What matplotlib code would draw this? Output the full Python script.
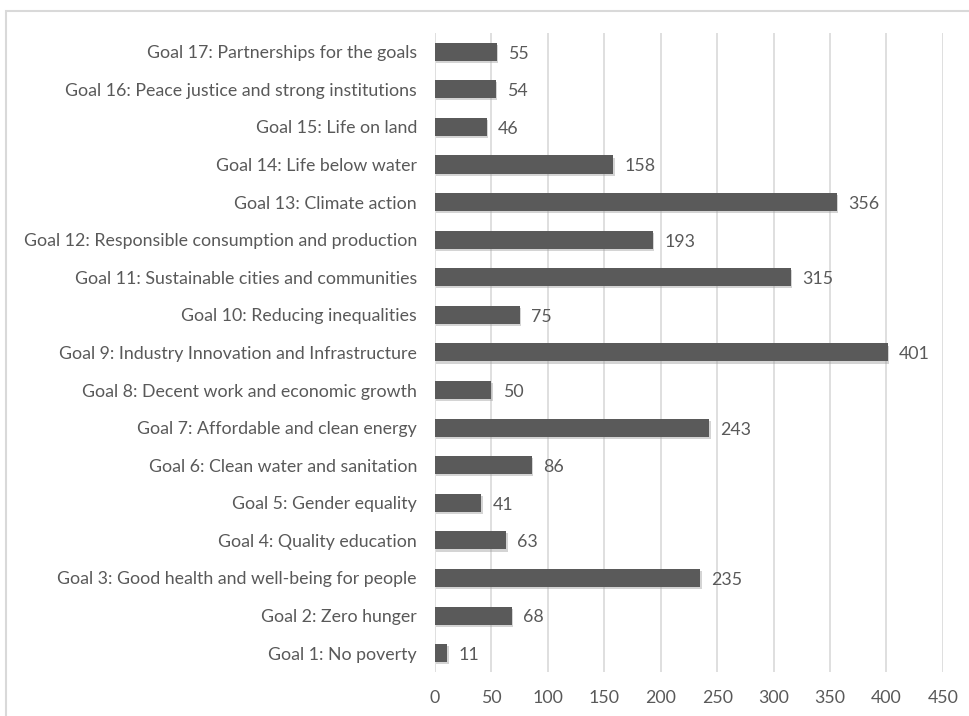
import matplotlib
matplotlib.use("Agg")
import matplotlib.pyplot as plt
import matplotlib.patheffects as pe
from matplotlib.patches import Rectangle

goals = [
    "Goal 1: No poverty",
    "Goal 2: Zero hunger",
    "Goal 3: Good health and well-being for people",
    "Goal 4: Quality education",
    "Goal 5: Gender equality",
    "Goal 6: Clean water and sanitation",
    "Goal 7: Affordable and clean energy",
    "Goal 8: Decent work and economic growth",
    "Goal 9: Industry Innovation and Infrastructure",
    "Goal 10: Reducing inequalities",
    "Goal 11: Sustainable cities and communities",
    "Goal 12: Responsible consumption and production",
    "Goal 13: Climate action",
    "Goal 14: Life below water",
    "Goal 15: Life on land",
    "Goal 16: Peace justice and strong institutions",
    "Goal 17: Partnerships for the goals",
]
counts = [11, 68, 235, 63, 41, 86, 243, 50, 401, 75, 315, 193, 356, 158, 46, 54, 55]
x_ticks = [0, 50, 100, 150, 200, 250, 300, 350, 400, 450]

plt.rcParams['font.family'] = ['Lato', 'DejaVu Sans']
text_col = "#595959"
fs = 12.8

fig = plt.figure(figsize=(9.7, 7.16), dpi=100)
ax = fig.add_axes([0.4485, 0.0615, 0.5235, 0.8925])

# outer chart border (top and left visible)
fig.add_artist(Rectangle((6 / 970, -0.05), 1.1, 1 - 11 / 716 + 0.05,
                         transform=fig.transFigure, fill=False,
                         edgecolor="#d9d9d9", linewidth=1.5))

ypos = range(len(goals))
bars = ax.barh(ypos, counts, height=0.48, color="#5a5a5a", zorder=3)
for b in bars:
    b.set_path_effects([pe.SimplePatchShadow(offset=(1, -1.5), shadow_rgbFace="#a0a0a0", alpha=0.45),
                        pe.Normal()])

for y, v in zip(ypos, counts):
    ax.text(v + 10, y - 0.05, str(v), va="center", ha="left", fontsize=fs, color=text_col)

ax.set_xlim(0, 450)
ax.set_ylim(-0.5, len(goals) - 0.5)
ax.set_xticks(x_ticks)
ax.set_yticks(list(ypos))
ax.set_yticklabels(goals)
ax.tick_params(axis="both", length=0, labelsize=fs, colors=text_col)
ax.tick_params(axis="y", pad=13)
ax.tick_params(axis="x", pad=13)
ax.grid(axis="x", color="#d9d9d9", linewidth=1.2, zorder=0)
for s in ax.spines.values():
    s.set_visible(False)

fig.savefig("out.png", dpi=100)
